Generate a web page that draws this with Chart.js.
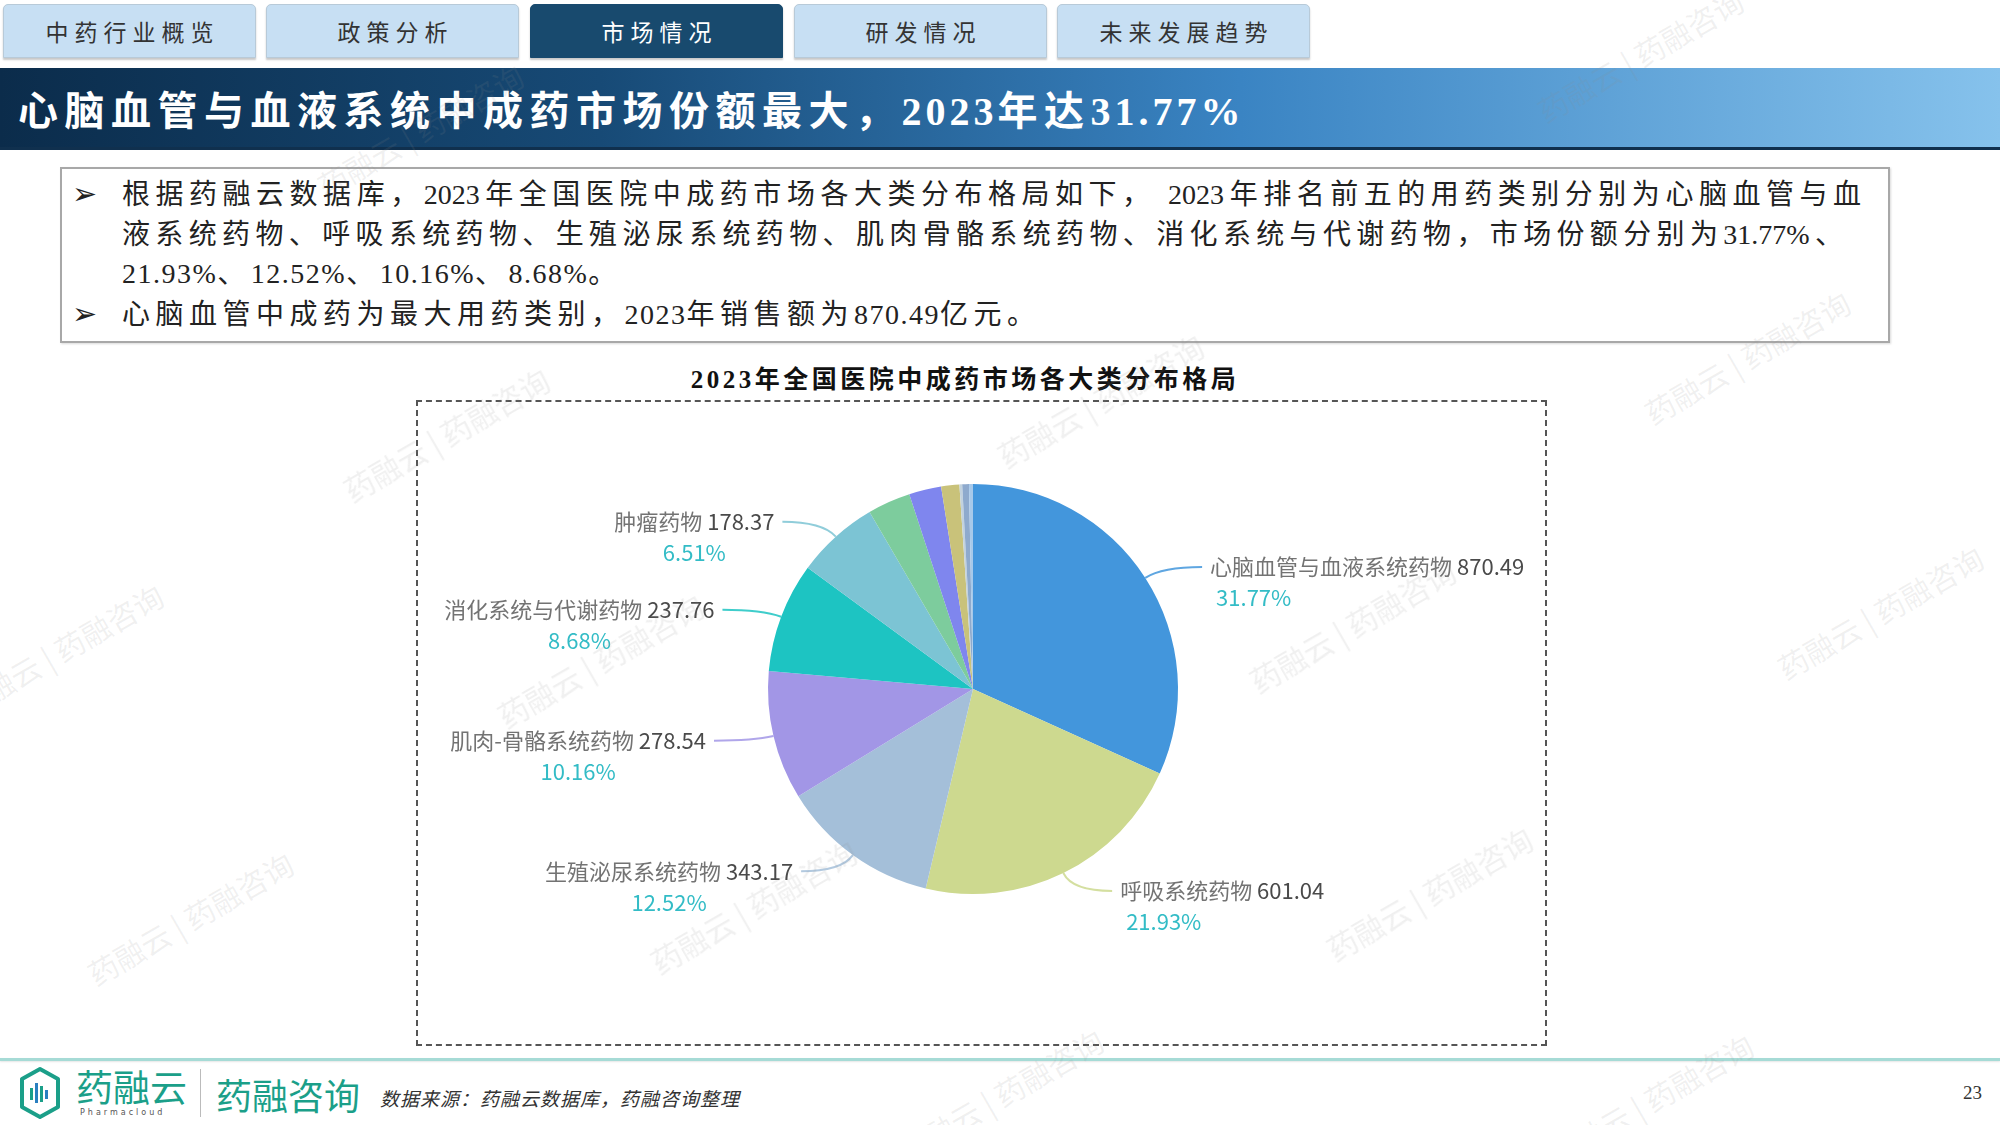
<!DOCTYPE html>
<html lang="zh-CN">
<head>
<meta charset="utf-8">
<script src="https://cdn.jsdelivr.net/npm/chart.js@4.4.1/dist/chart.umd.min.js"></script>
<style>
html,body{margin:0;padding:0;background:#fff;}
body{width:2000px;height:1125px;position:relative;overflow:hidden;font-family:"Liberation Serif","Noto Sans CJK SC",serif;}
.tab{position:absolute;top:4px;height:54px;width:253px;background:#c7dff3;border:1px solid #b8cad8;border-radius:5px 5px 0 0;box-shadow:0 2px 2px rgba(0,0,0,0.22);display:flex;align-items:center;justify-content:center;font-size:23px;letter-spacing:6px;color:#333;box-sizing:border-box;padding-left:6px;}
.tab.active{background:#184a6e;color:#fff;border-color:#184a6e;}
#titlebar{position:absolute;left:0;top:68px;width:2000px;height:79px;background:linear-gradient(90deg,#0b2c4b 0%,#174a76 30%,#3a84c3 62%,#86c2ec 100%);border-bottom:3px solid #10304e;}
#ttext{position:absolute;left:18px;top:50%;transform:translateY(-50%);color:#fff;font-weight:bold;font-size:40px;letter-spacing:6.5px;white-space:nowrap;}
#ttext .n{letter-spacing:4px;}
#box{position:absolute;left:60px;top:167px;width:1830px;height:176px;border:2px solid #a8a8a8;box-sizing:border-box;box-shadow:1px 1px 2px rgba(0,0,0,0.15);}
.ln{position:absolute;left:122px;font-size:28px;line-height:40px;height:40px;color:#222;white-space:nowrap;letter-spacing:5.5px;}
.ln .n{letter-spacing:1.5px;}
.just{text-align:justify;text-align-last:justify;letter-spacing:0;}
.bul{position:absolute;left:72px;font-size:30px;line-height:40px;color:#222;font-family:"DejaVu Sans",sans-serif;}
#ctitle{position:absolute;left:0;width:1930px;top:359px;text-align:center;font-size:25px;font-weight:bold;letter-spacing:3.5px;color:#111;}
#dash{position:absolute;left:416px;top:400px;width:1131px;height:646px;border:2px dashed #555;box-sizing:border-box;}
#chartWrap{position:absolute;left:416px;top:420px;width:1114px;height:538px;}
#footline{position:absolute;left:0;top:1058px;width:2000px;height:3px;background:#a6dbd6;box-shadow:0 1px 2px rgba(0,0,0,0.1);}
.logo{position:absolute;color:#1b9f89;font-family:"Noto Sans CJK SC",sans-serif;white-space:nowrap;}
#src{position:absolute;left:380px;top:1084px;font-size:19px;font-style:italic;color:#333;white-space:nowrap;letter-spacing:1px;}
#page{position:absolute;left:1963px;top:1082px;font-size:19px;color:#333;}
.wm{position:absolute;font-family:"Noto Sans CJK SC",sans-serif;font-size:30px;color:rgba(140,140,140,0.13);transform:translate(-50%,-50%) rotate(-30deg);white-space:nowrap;pointer-events:none;z-index:10;}
</style>
</head>
<body>
<div class="tab" style="left:3px">中药行业概览</div>
<div class="tab" style="left:266px">政策分析</div>
<div class="tab active" style="left:530px">市场情况</div>
<div class="tab" style="left:794px">研发情况</div>
<div class="tab" style="left:1057px">未来发展趋势</div>

<div id="titlebar"><div id="ttext">心脑血管与血液系统中成药市场份额最大，<span class="n">2023</span>年达<span class="n">31.77%</span></div></div>

<div id="box"></div>
<div class="bul" style="top:174px">➢</div>
<div class="ln just" style="top:175px;width:1739px">根据药融云数据库，2023年全国医院中成药市场各大类分布格局如下， 2023年排名前五的用药类别分别为心脑血管与血</div>
<div class="ln just" style="top:215px;width:1721px">液系统药物、呼吸系统药物、生殖泌尿系统药物、肌肉骨骼系统药物、消化系统与代谢药物，市场份额分别为31.77%、</div>
<div class="ln" style="top:254px"><span class="n">21.93%</span>、<span class="n">12.52%</span>、<span class="n">10.16%</span>、<span class="n">8.68%</span>。</div>
<div class="bul" style="top:294px">➢</div>
<div class="ln" style="top:295px">心脑血管中成药为最大用药类别，<span class="n">2023</span>年销售额为<span class="n">870.49</span>亿元。</div>

<div id="ctitle">2023年全国医院中成药市场各大类分布格局</div>
<div id="dash"></div>
<div id="chartWrap"><canvas id="c"></canvas></div>

<div id="footline"></div>
<svg style="position:absolute;left:17px;top:1066px" width="46" height="54" viewBox="0 0 46 54">
  <path d="M23 3 L41 13 L41 41 L23 51 L5 41 L5 13 Z" fill="none" stroke="#1b9f89" stroke-width="4" stroke-linejoin="round"/>
  <rect x="13" y="22" width="3" height="12" fill="#1b9f89"/>
  <rect x="18" y="17" width="3" height="20" fill="#2a7fc0"/>
  <rect x="23" y="20" width="3" height="16" fill="#1b9f89"/>
  <rect x="28" y="24" width="3" height="9" fill="#2a7fc0"/>
</svg>
<div class="logo" style="left:76px;top:1064px;font-size:37px;line-height:44px;">药融云</div>
<div class="logo" style="left:80px;top:1108px;font-size:8px;letter-spacing:3px;color:#555;font-family:'DejaVu Sans',sans-serif;">Pharmacloud</div>
<div style="position:absolute;left:200px;top:1069px;width:1px;height:48px;background:#bbb;"></div>
<div class="logo" style="left:216px;top:1072px;font-size:36px;line-height:44px;">药融咨询</div>
<div id="src">数据来源：药融云数据库，药融咨询整理</div>
<div id="page">23</div>

<div class="wm" style="left:446px;top:434px">药融云 | 药融咨询</div>
<div class="wm" style="left:600px;top:660px">药融云 | 药融咨询</div>
<div class="wm" style="left:60px;top:650px">药融云 | 药融咨询</div>
<div class="wm" style="left:190px;top:918px">药融云 | 药融咨询</div>
<div class="wm" style="left:753px;top:906px">药融云 | 药融咨询</div>
<div class="wm" style="left:1100px;top:400px">药融云 | 药融咨询</div>
<div class="wm" style="left:1352px;top:625px">药融云 | 药融咨询</div>
<div class="wm" style="left:1429px;top:893px">药融云 | 药融咨询</div>
<div class="wm" style="left:1747px;top:357px">药融云 | 药融咨询</div>
<div class="wm" style="left:1880px;top:612px">药融云 | 药融咨询</div>
<div class="wm" style="left:1640px;top:55px">药融云 | 药融咨询</div>
<div class="wm" style="left:1000px;top:1095px">药融云 | 药融咨询</div>
<div class="wm" style="left:1650px;top:1100px">药融云 | 药融咨询</div>
<div class="wm" style="left:420px;top:130px">药融云 | 药融咨询</div>

<script>
// ---- data ----
const categories = ["心脑血管与血液系统药物","呼吸系统药物","生殖泌尿系统药物","肌肉-骨骼系统药物","消化系统与代谢药物","肿瘤药物","神经系统药物","皮肤病用药","感觉器官药物","抗感染药物","抗寄生虫药物","其他"];
const values = [870.49, 601.04, 343.17, 278.54, 237.76, 178.37, 92.8, 69.6, 39.2, 6.0, 14.5, 8.5];
const shares = [31.77, 21.93, 12.52, 10.16, 8.68, 6.51, 3.39, 2.54, 1.43, 0.22, 0.53, 0.31];

// ---- styles ----
const sliceColors = ["#4396dc","#cdd98f","#a4bfd9","#a296e6","#1dc4c2","#7cc4d4","#7dcc9d","#7f86ee","#c9c27a","#c2d2de","#8eaacd","#a7c9ea"];
const LABEL_FONT = '22px "Noto Sans CJK SC", sans-serif';

const outLabels = {
  id: 'outLabels',
  afterDatasetsDraw(chart) {
    const ctx = chart.ctx;
    const meta = chart.getDatasetMeta(0);
    meta.data.forEach((arc, i) => {
      if (shares[i] < 5) return;
      const p = arc.getProps(['x','y','startAngle','endAngle','outerRadius'], true);
      const mid = (p.startAngle + p.endAngle) / 2;
      const c = Math.cos(mid), s = Math.sin(mid);
      const p0 = {x: p.x + c * p.outerRadius, y: p.y + s * p.outerRadius};
      const p1 = {x: p.x + c * (p.outerRadius + 20), y: p.y + s * (p.outerRadius + 20)};
      const dir = c >= 0 ? 1 : -1;
      const p2 = {x: p1.x + dir * 40, y: p1.y};
      ctx.save();
      ctx.strokeStyle = sliceColors[i];
      ctx.globalAlpha = 0.85;
      ctx.lineWidth = 2;
      ctx.beginPath();
      ctx.moveTo(p0.x, p0.y);
      ctx.quadraticCurveTo(p1.x, p1.y, p2.x, p2.y);
      ctx.stroke();
      ctx.globalAlpha = 1;
      ctx.font = LABEL_FONT;
      ctx.textBaseline = 'middle';
      ctx.textAlign = 'left';
      const name = categories[i] + ' ';
      const val = values[i].toFixed(2);
      const wName = ctx.measureText(name).width;
      const wVal = ctx.measureText(val).width;
      const total = wName + wVal;
      const gap = 8;
      const tx = dir > 0 ? p2.x + gap : p2.x - gap - total;
      ctx.fillStyle = '#737373';
      ctx.fillText(name, tx, p2.y);
      ctx.fillStyle = '#4a4a4a';
      ctx.fillText(val, tx + wName, p2.y);
      const pct = shares[i].toFixed(2) + '%';
      ctx.fillStyle = '#33bcc6';
      if (dir > 0) {
        ctx.fillText(pct, tx + 6, p2.y + 31);
      } else {
        ctx.textAlign = 'center';
        ctx.fillText(pct, tx + total / 2, p2.y + 31);
      }
      ctx.restore();
    });
  }
};

new Chart(document.getElementById('c'), {
  type: 'pie',
  data: {
    labels: categories,
    datasets: [{
      data: values,
      backgroundColor: sliceColors,
      borderWidth: 0
    }]
  },
  options: {
    responsive: true,
    maintainAspectRatio: false,
    animation: false,
    radius: 205,
    layout: {padding: 0},
    plugins: {legend: {display: false}, tooltip: {enabled: false}}
  },
  plugins: [outLabels]
});
</script>
</body>
</html>
